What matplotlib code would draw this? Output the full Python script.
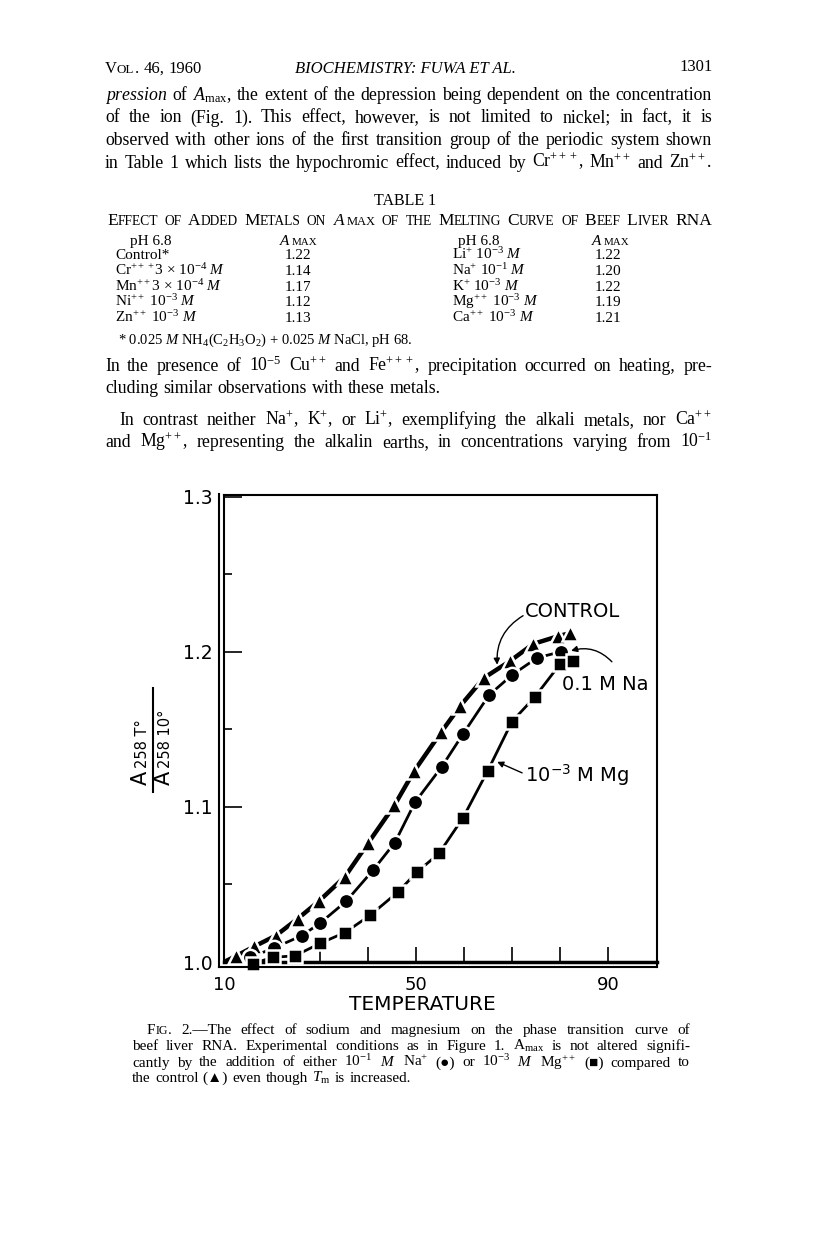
"""
Fuwa et al. 1960, p. 1301 - phase transition curves of beef liver RNA
with Na and Mg added (Fig. 2), together with the surrounding page text.
"""

import matplotlib
matplotlib.use("Agg")
import matplotlib.pyplot as plt
from matplotlib.lines import Line2D

W, H = 816, 1255

# ── Data ──────────────────────────────────────────────────────────────────────
T_START, A_START = 10, 1.0          # curves are normalised to A(10 deg) = 1

T_CONTROL = [12.6, 16.3, 20.8, 25.4, 29.7, 35.2, 40.1, 45.5, 49.6, 55.2,
             59.2, 64.1, 69.6, 74.4, 79.6, 82.1]
A_CONTROL = [1.004, 1.010, 1.017, 1.028, 1.039, 1.055, 1.077, 1.101, 1.123,
             1.148, 1.165, 1.183, 1.194, 1.205, 1.210, 1.212]

T_NA = [15.5, 20.4, 26.2, 30.0, 35.4, 41.0, 45.6, 49.8, 55.4, 59.8, 65.2,
        70.0, 75.2, 80.2]
A_NA = [1.003, 1.009, 1.017, 1.025, 1.039, 1.059, 1.077, 1.103, 1.126, 1.147,
        1.172, 1.185, 1.196, 1.200]

T_MG = [16.0, 20.2, 24.8, 30.0, 35.2, 40.4, 46.2, 50.2, 54.8, 59.8, 64.9,
        70.0, 74.8, 80.0, 82.7]
A_MG = [0.999, 1.003, 1.004, 1.012, 1.019, 1.030, 1.045, 1.058, 1.070,
        1.093, 1.123, 1.155, 1.171, 1.192, 1.194]

Y_TICKS = [1.0, 1.1, 1.2, 1.3]
Y_MINOR = [1.05, 1.15, 1.25]
X_TICKS = [10, 20, 30, 40, 50, 60, 70, 80, 90]
X_LABELS = ["10", "", "", "", "50", "", "", "", "90"]

# Table 1
TABLE_LEFT_IONS = ["Control*", r"Cr$^{+++}$3 × 10$^{-4}$ $M$",
                   r"Mn$^{++}$3 × 10$^{-4}$ $M$", r"Ni$^{++}$ 10$^{-3}$ $M$",
                   r"Zn$^{++}$ 10$^{-3}$ $M$"]
TABLE_LEFT_AMAX = [1.22, 1.14, 1.17, 1.12, 1.13]
TABLE_RIGHT_IONS = [r"Li$^{+}$ 10$^{-3}$ $M$", r"Na$^{+}$ 10$^{-1}$ $M$",
                    r"K$^{+}$ 10$^{-3}$ $M$", r"Mg$^{++}$ 10$^{-3}$ $M$",
                    r"Ca$^{++}$ 10$^{-3}$ $M$"]
TABLE_RIGHT_AMAX = [1.22, 1.20, 1.22, 1.19, 1.21]

plt.rcParams.update({
    "font.family": ["Liberation Serif", "DejaVu Sans"],
    "mathtext.fontset": "custom",
    "mathtext.rm": "Liberation Serif",
    "mathtext.it": "Liberation Serif:italic",
    "mathtext.bf": "Liberation Serif:bold",
    "mathtext.sf": "DejaVu Sans",
})

fig = plt.figure(figsize=(W / 100, H / 100), dpi=100)
renderer = fig.canvas.get_renderer()


# ── little typesetting helpers (pixel coords, y from the top) ────────────────

def text_width(s, **kw):
    t = fig.text(0, 0, s, **kw)
    w = t.get_window_extent(renderer).width
    t.remove()
    return w


def plain(s, size, **kw):
    return [[(w, size, kw)] for w in s.split(" ") if w]


def smallcaps(s, size, **kw):
    words = []
    for w in s.split():
        runs, buf, low = [], "", None
        for ch in w:
            is_low = ch.islower()
            if low is not None and is_low != low:
                runs.append((buf.upper(), size * (0.78 if low else 1), kw))
                buf = ""
            buf += ch
            low = is_low
        runs.append((buf.upper(), size * (0.78 if low else 1), kw))
        words.append(runs)
    return words


def runs_width(runs):
    return sum(text_width(t, fontsize=fs, **kw) for t, fs, kw in runs)


def draw_runs(runs, x, y):
    for t, fs, kw in runs:
        fig.text(x / W, 1 - y / H, t, fontsize=fs, va="baseline", **kw)
        x += text_width(t, fontsize=fs, **kw)


def put_line(words, x0, y, x1=None):
    widths = [runs_width(wd) for wd in words]
    size = words[0][0][1]
    if x1 is None or len(words) < 2:
        gap = size * 100 / 72 * 0.28
    else:
        gap = (x1 - x0 - sum(widths)) / (len(words) - 1)
    x = x0
    for wd, ww in zip(words, widths):
        draw_runs(wd, x, y)
        x += ww + gap


def put_centered(runs, xc, y):
    draw_runs(runs, xc - runs_width(runs) / 2, y)


# ── Page text above the figure ────────────────────────────────────────────────
LEFT, RIGHT = 105, 712
BODY = 12.8

put_line(smallcaps("Vol. 46, 1960", 12), LEFT, 73)
fig.text(405 / W, 1 - 73 / H, "BIOCHEMISTRY: FUWA ET AL.", fontsize=12,
         style="italic", ha="center", va="baseline")
fig.text(713 / W, 1 - 71 / H, "1301", fontsize=12, ha="right", va="baseline")

para1 = [
    r"$\mathit{pression}$ of $A_{\mathrm{max}}$, the extent of the depression being dependent on the concentration",
    "of the ion (Fig. 1).  This effect, however, is not limited to nickel;  in fact, it is",
    "observed with other ions of the first transition group of the periodic system shown",
    r"in Table 1 which lists the hypochromic effect, induced by Cr$^{+++}$, Mn$^{++}$ and Zn$^{++}$.",
]
for i, line in enumerate(para1):
    put_line(plain(line, BODY), LEFT, 100 + 22.5 * i, RIGHT)

fig.text(405 / W, 1 - 205 / H, "TABLE 1", fontsize=11.5, ha="center",
         va="baseline")
TT = 12.5
title = (smallcaps("Effect of Added Metals on", TT)
         + [[("$A$", TT, {}), ("MAX", TT * 0.72, {})]]
         + smallcaps("of the Melting Curve of Beef Liver RNA", TT))
put_line(title, 107, 225, RIGHT)

TAB = 11
amax_head = [("$A$", TAB, {}), ("MAX", TAB * 0.72, {})]
fig.text(130 / W, 1 - 245 / H, "pH 6.8", fontsize=TAB, va="baseline")
put_centered(amax_head, 298, 245)
fig.text(458 / W, 1 - 245 / H, "pH 6.8", fontsize=TAB, va="baseline")
put_centered(amax_head, 610, 245)
for i in range(len(TABLE_LEFT_IONS)):
    y = 1 - (259 + 15.8 * i) / H
    fig.text(115 / W, y, TABLE_LEFT_IONS[i], fontsize=TAB, va="baseline")
    fig.text(298 / W, y, f"{TABLE_LEFT_AMAX[i]:.2f}", fontsize=TAB,
             ha="center", va="baseline")
    fig.text(452 / W, y, TABLE_RIGHT_IONS[i], fontsize=TAB, va="baseline")
    fig.text(608 / W, y, f"{TABLE_RIGHT_AMAX[i]:.2f}", fontsize=TAB,
             ha="center", va="baseline")

fig.text(118 / W, 1 - 344 / H,
         r"* 0.025 $M$ NH$_4$(C$_2$H$_3$O$_2$) + 0.025 $M$ NaCl, pH 68.",
         fontsize=10.5, va="baseline")

put_line(plain(r"In the presence of 10$^{-5}$ Cu$^{++}$ and Fe$^{+++}$, precipitation occurred on heating, pre-", BODY),
         LEFT, 371, RIGHT)
put_line(plain("cluding similar observations with these metals.", BODY), LEFT, 393)
put_line(plain(r"In contrast neither Na$^{+}$, K$^{+}$, or Li$^{+}$, exemplifying the alkali metals, nor Ca$^{++}$", BODY),
         119, 425, RIGHT)
put_line(plain(r"and Mg$^{++}$, representing the alkalin earths, in concentrations varying from 10$^{-1}$", BODY),
         LEFT, 447, RIGHT)

# ── The figure ────────────────────────────────────────────────────────────────
SANS = "DejaVu Sans"
ax = fig.add_axes([224 / W, 1 - 962 / H, (657 - 224) / W, (962 - 495) / H])
ax.set_xlim(10, 100.2)
ax.set_ylim(1.0, 1.301)
for side in ["left", "top", "right"]:
    ax.spines[side].set_linewidth(1.5)
ax.spines["bottom"].set_linewidth(2.5)

# double frame on the left and at the bottom
for xs, ys in [([219, 219], [494, 967]), ([219, 657], [967, 967]),
               ([657, 657], [962, 967])]:
    fig.add_artist(Line2D([x / W for x in xs], [1 - y / H for y in ys],
                          color="black", lw=1.5))

ax.set_yticks(Y_TICKS)
ax.set_yticklabels([f"{v:.1f}" for v in Y_TICKS], fontfamily=SANS, fontsize=13.5)
ax.set_yticks(Y_MINOR, minor=True)
ax.set_xticks(X_TICKS)
ax.set_xticklabels(X_LABELS, fontfamily=SANS, fontsize=13)
ax.tick_params(axis="y", which="major", direction="in", length=13, width=1.2, pad=8.5)
ax.tick_params(axis="y", which="minor", direction="in", length=6, width=1.2)
ax.tick_params(axis="x", direction="in", length=11, width=1.2, pad=10)

ax.set_xlabel("TEMPERATURE", fontfamily=SANS, fontsize=14.5, va="top")
ax.xaxis.set_label_coords((422 - 224) / 433, -(995 - 962) / 467)

series = [
    (T_CONTROL, A_CONTROL, "^", 12.0, 3.2),
    (T_NA, A_NA, "o", 11.0, 2.0),
    (T_MG, A_MG, "s", 10.5, 2.0),
]
for t, a, mk, ms, lw in series:
    ax.plot([T_START] + t, [A_START] + a, color="black", lw=lw,
            solid_capstyle="butt", clip_on=False)
for t, a, mk, ms, lw in series:
    ax.plot(t, a, ls="none", marker=mk, ms=ms, mfc="black", mec="white",
            mew=1.8, clip_on=False, zorder=3)

arrow = dict(arrowstyle="-|>", color="black", lw=1.0, mutation_scale=9,
             shrinkA=0, shrinkB=0)
ax.annotate("", xy=(66.9, 1.1916), xytext=(72.3, 1.2232),
            arrowprops=dict(arrow, connectionstyle="arc3,rad=0.3"))
ax.annotate("", xy=(82.3, 1.2006), xytext=(90.8, 1.1935),
            arrowprops=dict(arrow, connectionstyle="arc3,rad=0.3"))
ax.annotate("", xy=(66.9, 1.129), xytext=(72.1, 1.1219),
            arrowprops=dict(arrow, connectionstyle="arc3,rad=0.0"))
ax.text(72.7, 1.2226, "CONTROL", fontfamily=SANS, fontsize=14, va="baseline")
ax.text(80.4, 1.1755, "0.1 M Na", fontfamily=SANS, fontsize=14, va="baseline")
ax.text(72.7, 1.1161, "10$^{-3}$ M Mg", fontfamily=SANS, math_fontfamily="dejavusans",
        fontsize=14, va="baseline")

# y label: A258 T deg over A258 10 deg, written sideways
def sideways(x, y, parts):
    for s, fs in parts:
        fig.text(x / W, 1 - y / H, s, fontfamily=SANS, fontsize=fs, rotation=90,
                 rotation_mode="anchor", ha="left", va="baseline")
        y -= text_width(s, fontfamily=SANS, fontsize=fs) + 3

sideways(147, 785, [("A", 15), ("258 T°", 10.5)])
sideways(170, 785, [("A", 15), ("258 10°", 10.5)])
fig.add_artist(Line2D([153 / W, 153 / W], [1 - 688 / H, 1 - 792 / H],
                      color="black", lw=1.5))

# ── Caption ───────────────────────────────────────────────────────────────────
CAP = 11
cap_left, cap_right = 132, 690
put_line(smallcaps("Fig.", CAP) + plain("2.—The effect of sodium and magnesium on the phase transition curve of", CAP),
         147, 1034, cap_right)
put_line(plain(r"beef liver RNA.  Experimental conditions as in Figure 1.  A$_{\mathrm{max}}$ is not altered signifi-", CAP),
         cap_left, 1050, cap_right)
put_line(plain(r"cantly by the addition of either 10$^{-1}$ $M$ Na$^{+}$ (●) or 10$^{-3}$ $M$ Mg$^{++}$ (■) compared to", CAP),
         cap_left, 1066.5, cap_right)
put_line(plain(r"the control (▲) even though $T_{\mathrm{m}}$ is increased.", CAP), cap_left, 1082)

fig.savefig("out.png", dpi=100)
